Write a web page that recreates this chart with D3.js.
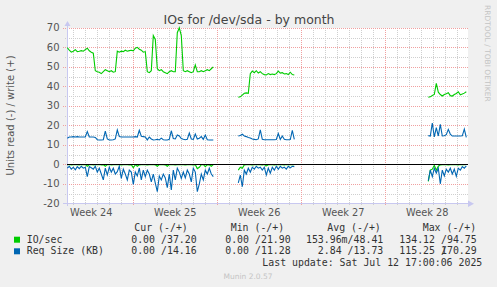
<!DOCTYPE html>
<html>
<head>
<meta charset="utf-8">
<script src="https://cdn.jsdelivr.net/npm/d3@7"></script>
<style>
  body { margin: 0; background: #f0f0f0; }
  text { font-family: "DejaVu Sans", sans-serif; }
  .mono { font-family: "DejaVu Sans Mono", monospace; }
</style>
</head>
<body>
<div id="chart"></div>
<script>
// munin diskstats_iops, month view

// each series is split in the segments where rrd had data, one value per 4 hours
var segStarts = ["2025-06-10T12:00Z", "2025-06-24T18:00Z", "2025-07-10T14:00Z"];
var stepHours = 4;

var ioWrite = [
  [59.8,58.5,57.5,58,58.8,57.8,58,58.3,58,58.8,59.5,58.2,57.5,57,48,47.5,47.2,46.5,47.5,48.5,48,47.5,48,47.2,47.5,
   58,57.5,58,57.8,58.5,58,58.3,58.5,58.2,59.5,60,59,58.5,57.5,57.8,47.5,47,48,66,64,49,48,48.5,47.5,47,46.5,47.5,48,47.5,47.5,
   67.5,70,66,48,47.5,48,47.5,47,47.5,51,47.5,47.5,48,47.5,48,48.5,48,49,50],
  [34.4,34.6,35.5,36.4,36.6,36.4,46.5,47.8,47,48,46.8,47.5,46.5,46,45.8,46.5,46,46.3,46,46.5,47.8,46.8,47,46.3,46.5,46,47.2,46,45.8],
  [34.4,34.6,35.3,35.8,41.5,37,35.8,35,35.8,36.2,36.7,35.2,35,35.8,36.3,37.2,35.6,36,36.5,37.2]
];
var ioRead = [
  [-0.2,-0.1,-0.3,-0.2,-0.1,-0.2,-0.3,-0.1,-0.2,-0.2,-1,-0.2,-0.1,-0.3,-0.2,-0.2,-0.1,-0.3,-0.2,-1,
   -0.2,-0.1,-0.3,-0.2,-0.2,-0.1,-0.2,-0.3,-0.2,-0.1,-0.2,-0.3,-0.2,-1.8,-0.2,-1,-0.3,-0.2,-0.1,-0.2,
   -0.3,-0.2,-0.2,-0.1,-0.3,-1,-0.2,-0.1,-0.2,-0.3,-1,-0.2,-0.1,-0.2,-0.3,-0.2,-0.1,-0.2,-0.2,-0.3,
   -0.2,-0.1,-0.2,-0.3,-0.2,-2.2,-1.5,-0.2,-0.1,-1.2,-0.2,-0.3,-1,-0.2],
  [-3,-1.5,-2,-0.3,-0.2,-0.1,-0.2,-0.3,-0.2,-0.1,-0.2,-0.2,-0.3,-0.1,-0.8,-0.2,-0.1,-0.2,-0.3,-0.2,-0.1,-0.2,-0.2,-0.3,-0.1,-0.2,-0.2,-0.1,-0.2],
  [-8.8,-3,-2.5,-0.5,-3,-1,-0.3,-0.2,-0.1,-0.2,-0.3,-0.2,-0.1,-0.2,-0.2,-0.3,-0.1,-0.2,-0.2,-0.1]
];
var reqWrite = [
  [13.4,14,14,14.2,14,14.2,14,14,14,14,16.8,14,14,14,13.8,12.6,12.5,12.5,12.6,17,13,12.5,12.5,12.6,13,17.6,14.2,14,14,14,
   14,14,14,14,14.2,14,17.4,14.4,14.2,14,12.5,14,13,12.5,12.6,12.8,12.5,13.4,12.6,12.5,12.5,12.8,17.2,13.2,13,15,14.5,13.2,12.8,12.6,
   12.8,16,13,12.8,15.5,13,13.4,14.2,12.8,15,12.6,12.5,12.5,12.5],
  [14.5,14.8,15.4,14.5,14.2,13.7,13.5,13,12.8,12.6,13,17.6,12.8,12.6,12.6,12.6,12.6,12.6,12.6,12.7,15.8,12.8,14.5,12.8,12.6,12.6,12.7,17.4,12.8],
  [14.7,14.5,21.2,14,18.8,14.5,20.5,14.5,14.6,15.2,17.9,15.5,14.5,14.5,14.5,14.5,14.5,14.6,18,13.8]
];
var reqRead = [
  [-2,-1,-2.5,-1.5,-2.8,-1.2,-2.2,-1,-2,-1.5,-6.3,-1.2,-1.8,-2.5,-1,-4,-2,-5,-8,-2,-5.5,-1.5,-4,-2,-5,-3.8,-1,-7.2,-2.5,-5,
   -8,-3,-4,-10.3,-4,-6,-2,-8,-3,-6.3,-3,-5,-9,-5,-9.7,-14,-6,-8,-5,-7,-12,-5,-13.2,-3,-8,-2,-4,-7.2,-4,-7,
   -3,-5,-9,-2,-4,-14,-10,-5,-8,-3,-5,-2,-5,-6.3],
  [-9.5,-5.5,-11.5,-3,-5,-2,-4,-1.5,-2.5,-1,-2,-1.5,-3,-1.5,-5.5,-2,-4.5,-1.5,-3,-1,-2.5,-1,-2,-1.5,-2.5,-1,-1.8,-1,-1.2],
  [-8.4,-3,-6.3,-2,-4.5,-2,-10,-3,-6,-2.5,-4,-2,-5,-2.5,-6.2,-2,-3,-1.2,-2,-0.8]
];

var yTicks = [-20, -10, 0, 10, 20, 30, 40, 50, 60, 70];
var weekStarts = ["2025-06-09", "2025-06-16", "2025-06-23", "2025-06-30", "2025-07-07"];
var weekLabels = ["Week 24", "Week 25", "Week 26", "Week 27", "Week 28"];

var legendNames = ["IO/sec", "Req Size (KB)"];
var legendCols = ["Cur (-/+)", "Min (-/+)", "Avg (-/+)", "Max (-/+)"];
var ioStats = [["0.00 ", "37.20"], ["0.00 ", "21.90"], ["153.96m", "48.41"], ["134.12 ", "94.75"]];
var reqStats = [["0.00 ", "14.16"], ["0.00 ", "11.28"], ["2.84 ", "13.73"], ["115.25 ", "170.29"]];

var W = 497, H = 287;
var green = "#00cc00", blue = "#0066b3";

var svg = d3.select("#chart").append("svg")
  .attr("width", W).attr("height", H);

svg.append("rect").attr("width", W).attr("height", H).attr("fill", "#f0f0f0");

var x = d3.scaleUtc()
  .domain([new Date("2025-06-10T11:24Z"), new Date("2025-07-13T20:48Z")])
  .range([67, 467.7]);
var y = d3.scaleLinear().domain([-20, 70]).range([203.3, 27.8]);

var px = function(v) { return Math.round(v) + 0.5; };

svg.append("rect")
  .attr("x", 67).attr("y", 28)
  .attr("width", 401).attr("height", 176)
  .attr("fill", "#fff");

var grid = svg.append("g").attr("shape-rendering", "crispEdges");

// minor grid: days and every 5 units
var days = d3.utcDay.range(x.domain()[0], x.domain()[1]);
grid.selectAll(".vmin").data(days).enter().append("line")
  .attr("x1", function(d) { return px(x(d)); }).attr("x2", function(d) { return px(x(d)); })
  .attr("y1", 28).attr("y2", 205)
  .attr("stroke", "#cfcfcf").attr("stroke-dasharray", "1,1");
grid.selectAll(".hmin").data(d3.range(-15, 71, 10)).enter().append("line")
  .attr("x1", 65).attr("x2", 468)
  .attr("y1", function(d) { return px(y(d)); }).attr("y2", function(d) { return px(y(d)); })
  .attr("stroke", "#cfcfcf").attr("stroke-dasharray", "1,1");

// major grid: weeks and every 10 units
var mondays = d3.utcMonday.range(x.domain()[0], x.domain()[1]);
grid.selectAll(".vmaj").data(mondays).enter().append("line")
  .attr("x1", function(d) { return px(x(d)); }).attr("x2", function(d) { return px(x(d)); })
  .attr("y1", 28).attr("y2", 206)
  .attr("stroke", "#f0a0a0").attr("stroke-dasharray", "1,1");
grid.selectAll(".hmaj").data(yTicks.filter(function(d) { return d > -20; })).enter().append("line")
  .attr("x1", 63).attr("x2", 468)
  .attr("y1", function(d) { return px(y(d)); }).attr("y2", function(d) { return px(y(d)); })
  .attr("stroke", "#f0a0a0").attr("stroke-dasharray", "1,1");

// axes
grid.append("line").attr("x1", 63).attr("x2", 469).attr("y1", px(y(-20))).attr("y2", px(y(-20)))
  .attr("stroke", "#c8c8f0");
grid.append("line").attr("x1", 67.5).attr("x2", 67.5).attr("y1", 25).attr("y2", 206)
  .attr("stroke", "#c8c8f0");
svg.append("path").attr("d", "M468,200.5L474,203.8L468,207Z").attr("fill", "#c8c8f0");
svg.append("path").attr("d", "M64.5,26L70.5,26L67.5,21Z").attr("fill", "#c8c8f0");

// data lines
function toPoints(segs) {
  var pts = [];
  segs.forEach(function(vals, s) {
    var t0 = new Date(segStarts[s]);
    vals.forEach(function(v, i) {
      pts.push({ t: d3.utcHour.offset(t0, i * stepHours), v: v });
    });
    pts.push(null);
  });
  return pts;
}

var line = d3.line()
  .defined(function(d) { return d !== null; })
  .x(function(d) { return x(d.t); })
  .y(function(d) { return y(d.v); });

[[ioRead, green], [ioWrite, green], [reqRead, blue], [reqWrite, blue]].forEach(function(s) {
  svg.append("path")
    .datum(toPoints(s[0]))
    .attr("d", line)
    .attr("fill", "none")
    .attr("stroke", s[1])
    .attr("stroke-width", 1.1);
});

// zero line
svg.append("line").attr("x1", 67).attr("x2", 468).attr("y1", px(y(0))).attr("y2", px(y(0)))
  .attr("stroke", "#000").attr("shape-rendering", "crispEdges");

// tick labels
svg.selectAll(".ytick").data(yTicks).enter().append("text")
  .attr("x", 59.5).attr("y", function(d) { return y(d) + 3.6; })
  .attr("text-anchor", "end").attr("font-size", 10).attr("fill", "#555")
  .text(function(d) { return d; });

svg.selectAll(".xlab").data(weekStarts).enter().append("text")
  .attr("x", function(d) { return x(d3.utcHour.offset(new Date(d + "T00:00Z"), 84)); })
  .attr("y", 216)
  .attr("text-anchor", "middle").attr("font-size", 9.8).attr("fill", "#555")
  .text(function(d, i) { return weekLabels[i]; });

// title and side texts
svg.append("text").attr("x", 249).attr("y", 24.3)
  .attr("text-anchor", "middle").attr("font-size", 12.5).attr("fill", "#444")
  .text("IOs for /dev/sda - by month");

svg.append("text")
  .attr("transform", "translate(10,115.5) rotate(-90)")
  .attr("text-anchor", "middle").attr("dominant-baseline", "central")
  .attr("font-size", 10).attr("fill", "#555")
  .text("Units read (-) / write (+)");

svg.append("text")
  .attr("transform", "translate(487,5) rotate(90)")
  .attr("dominant-baseline", "central")
  .attr("font-size", 7.5).attr("fill", "#c4c4c4")
  .text("RRDTOOL / TOBI OETIKER");

// legend
var cw = 5.96;
var colStart = [134.3, 230.7, 327.3, 422.7];
var colEnd = [196.7, 290.7, 383.3, 476.7];
var leg = svg.append("g").attr("class", "mono").attr("font-size", 9.9).attr("fill", "#333");

leg.selectAll(".hdr").data(legendCols).enter().append("text")
  .attr("class", "mono")
  .attr("x", function(d, i) { return colStart[i]; }).attr("y", 231)
  .text(function(d) { return d; });

[[ioStats, green, 242.7], [reqStats, blue, 254.3]].forEach(function(row, r) {
  leg.append("rect").attr("x", 14).attr("y", row[2] - 6).attr("width", 6).attr("height", 6)
    .attr("fill", row[1]);
  leg.append("text").attr("class", "mono").attr("x", 26.7).attr("y", row[2]).text(legendNames[r]);
  row[0].forEach(function(st, c) {
    leg.append("text").attr("class", "mono")
      .attr("x", colEnd[c] - 5 * cw).attr("y", row[2]).attr("text-anchor", "end")
      .text(st[0] + "/");
    leg.append("text").attr("class", "mono")
      .attr("x", colEnd[c]).attr("y", row[2]).attr("text-anchor", "end")
      .text(st[1]);
  });
});

leg.append("text").attr("class", "mono")
  .attr("x", 482.3).attr("y", 266).attr("text-anchor", "end")
  .text("Last update: Sat Jul 12 17:00:06 2025");

svg.append("text").attr("x", 248).attr("y", 278.5)
  .attr("text-anchor", "middle").attr("font-size", 7.5).attr("fill", "#c4c4c4")
  .text("Munin 2.0.57");
</script>
</body>
</html>
